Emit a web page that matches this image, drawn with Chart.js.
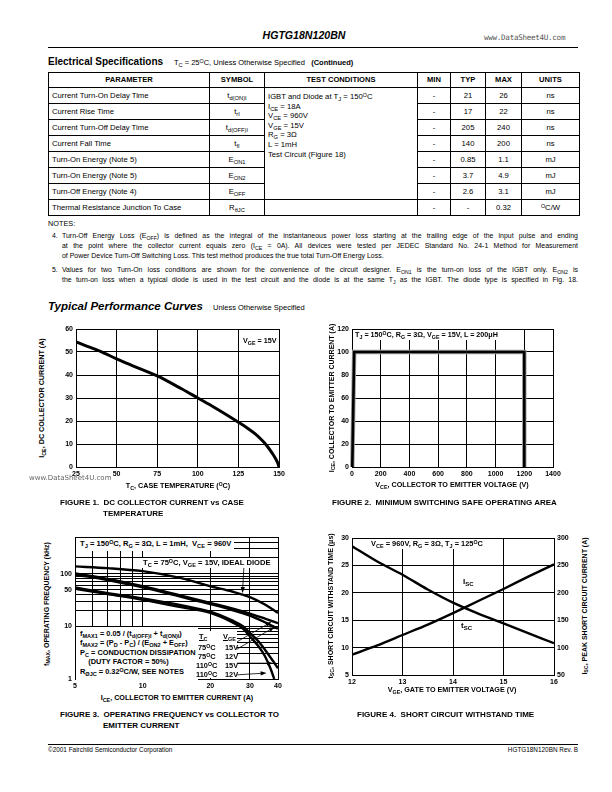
<!DOCTYPE html>
<html><head><meta charset="utf-8">
<script src="https://cdn.jsdelivr.net/npm/chart.js@4.4.0/dist/chart.umd.min.js"></script>
<style>
html,body{margin:0;padding:0;background:#fff}
body{width:612px;height:792px;position:relative;overflow:hidden;font-family:"Liberation Sans",Arial,sans-serif;color:#000}
.t{position:absolute;white-space:nowrap;line-height:1}
.n{font-family:"Liberation Sans Narrow","Liberation Sans",Arial,sans-serif;font-weight:bold}
sub{font-size:75%;vertical-align:-0.3em;line-height:0}
sup{font-size:70%;vertical-align:0.45em;line-height:0}
canvas{position:absolute}
.rot{position:absolute;white-space:nowrap;line-height:1;transform:translate(-50%,-50%) rotate(-90deg)}
.xt{position:absolute;white-space:nowrap;line-height:1;transform:translate(-50%,-50%)}
.wb{background:#fff}
#spec{position:absolute;left:48px;top:72px;width:531px;border-collapse:collapse;table-layout:fixed;font-size:7.7px}
#spec td,#spec th{border:1px solid #000;padding:0 3px;line-height:1;white-space:nowrap;overflow:visible}
#spec th{font-weight:bold;text-align:center;font-size:7.6px}
#spec tr{height:16px}
#spec tr.h{height:15px}
.c{text-align:center}
.note{position:absolute;left:62px;width:516px;font-size:6.95px;line-height:1;text-align:justify;text-align-last:justify;white-space:normal}
.last{text-align-last:left}
</style></head><body>
<script>
// ---------- DATA ----------
// Figure 1: DC collector current vs case temperature
const fig1Temp    = [25, 30, 40, 50, 60, 75, 90, 100, 110, 125, 130, 135, 140, 143, 146, 148, 149.3, 150];
const fig1Current = [54.4, 53, 50.3, 47, 44, 39.6, 34, 30, 26, 19.5, 17.2, 14.6, 11.3, 8.8, 5.8, 3.5, 1.6, 0];
// Figure 2: minimum switching safe operating area
const fig2Voltage = [2, 15, 1200, 1200];
const fig2Current = [0, 100, 100, 0];
// Figure 3: operating frequency vs collector current
const fig3Current     = [5, 7, 10, 15, 20, 25, 30, 35, 40];
const fig3IdealDiode  = [138, 128, 112, 82, 58, 46, 36, 26, 18];
const fig3T75V15      = [102, 80, 58, 38, 28, 22, 17.5, 14, 11.5];
const fig3T75V12      = [96, 76, 55, 36, 26.5, 20.5, 16, 12, 9];
const fig3Current110a = [5, 7, 10, 15, 20, 25, 28, 30, 33, 35, 38, 40];
const fig3T110V15     = [55, 43, 34, 25, 19, 13, 10, 7.5, 5, 3.6, 2.2, 1.6];
const fig3Current110b = [5, 7, 10, 15, 20, 25, 28, 30, 33, 35, 37, 38.5];
const fig3T110V12     = [52, 41, 32, 23, 18, 12, 9, 6.5, 4, 2.7, 1.6, 1];
const fig3XTicks = [5, 6, 7, 8, 9, 10, 20, 30, 40];
const fig3XLabels = [5, 10, 20, 30, 40];
const fig3YTicks = [1,2,3,4,5,6,7,8,9,10,20,30,40,50,60,70,80,90,100,200,300,400,500];
const fig3YLabels = [1, 10, 50, 100];
// arrows of figure 3 (from label to curve), in data units
const fig3Arrows = [[28.2,131,27.8,43],[26.3,5.1,37.4,12.2],[26.3,3.7,38.7,9.8],[26.3,2.0,38.0,2.0],[26.3,1.2,35.6,1.3]];
// Figure 4: short circuit withstand time
const fig4Vge = [12, 12.5, 13, 13.5, 14, 14.5, 15, 15.5, 16];
const fig4Tsc = [28.5, 25.7, 23.3, 20.6, 18.2, 16.2, 14.4, 12.6, 10.8];
const fig4Isc = [87, 104, 123, 142, 163, 185, 207, 230, 252];
</script>

<!-- header -->
<div class="t" style="left:204px;width:200px;text-align:center;top:30px;font-size:10.6px;font-weight:bold;font-style:italic">HGTG18N120BN</div>
<div class="t" style="left:484px;top:34px;font-size:7.6px;color:#555;font-family:'DejaVu Sans Mono','DejaVu Sans',monospace;letter-spacing:-0.3px">www.DataSheet4U.com</div>
<div style="position:absolute;left:48px;top:47px;width:530px;height:1.3px;background:#000"></div>
<div class="t" style="left:48px;top:57px;font-size:10px;font-weight:bold">Electrical Specifications</div>
<div class="t" style="left:174px;top:59px;font-size:7.5px">T<sub>C</sub> = 25<sup>O</sup>C, Unless Otherwise Specified &nbsp;&nbsp;<b>(Continued)</b></div>

<table id="spec">
<colgroup><col style="width:161px"><col style="width:55px"><col style="width:153px"><col style="width:33px"><col style="width:35px"><col style="width:36px"><col style="width:58px"></colgroup>
<tr class="h"><th>PARAMETER</th><th>SYMBOL</th><th>TEST CONDITIONS</th><th>MIN</th><th>TYP</th><th>MAX</th><th>UNITS</th></tr>
<tr><td>Current Turn-On Delay Time</td><td class="c">t<sub>d(ON)I</sub></td>
<td rowspan="7" style="vertical-align:top;padding-top:4px;line-height:9.6px">IGBT and Diode at T<sub>J</sub> = 150<sup>O</sup>C<br>I<sub>CE</sub> = 18A<br>V<sub>CE</sub> = 960V<br>V<sub>GE</sub> = 15V<br>R<sub>G</sub> = 3Ω<br>L = 1mH<br>Test Circuit (Figure 18)</td>
<td class="c">-</td><td class="c">21</td><td class="c">26</td><td class="c">ns</td></tr>
<tr><td>Current Rise Time</td><td class="c">t<sub>rI</sub></td><td class="c">-</td><td class="c">17</td><td class="c">22</td><td class="c">ns</td></tr>
<tr><td>Current Turn-Off Delay Time</td><td class="c">t<sub>d(OFF)I</sub></td><td class="c">-</td><td class="c">205</td><td class="c">240</td><td class="c">ns</td></tr>
<tr><td>Current Fall Time</td><td class="c">t<sub>fI</sub></td><td class="c">-</td><td class="c">140</td><td class="c">200</td><td class="c">ns</td></tr>
<tr><td>Turn-On Energy (Note 5)</td><td class="c">E<sub>ON1</sub></td><td class="c">-</td><td class="c">0.85</td><td class="c">1.1</td><td class="c">mJ</td></tr>
<tr><td>Turn-On Energy (Note 5)</td><td class="c">E<sub>ON2</sub></td><td class="c">-</td><td class="c">3.7</td><td class="c">4.9</td><td class="c">mJ</td></tr>
<tr><td>Turn-Off Energy (Note 4)</td><td class="c">E<sub>OFF</sub></td><td class="c">-</td><td class="c">2.6</td><td class="c">3.1</td><td class="c">mJ</td></tr>
<tr><td>Thermal Resistance Junction To Case</td><td class="c">R<sub>θJC</sub></td><td></td><td class="c">-</td><td class="c">-</td><td class="c">0.32</td><td class="c"><sup>O</sup>C/W</td></tr>
</table>

<div class="t" style="left:48px;top:220px;font-size:7.3px">NOTES:</div>
<div class="t" style="left:52px;top:233px;font-size:6.95px">4.</div>
<div class="note" style="top:233px">Turn-Off Energy Loss (E<sub>OFF</sub>) is defined as the integral of the instantaneous power loss starting at the trailing edge of the input pulse and ending</div>
<div class="note" style="top:243px">at the point where the collector current equals zero (I<sub>CE</sub> = 0A). All devices were tested per JEDEC Standard No. 24-1 Method for Measurement</div>
<div class="note last" style="top:253px">of Power Device Turn-Off Switching Loss. This test method produces the true total Turn-Off Energy Loss.</div>
<div class="t" style="left:52px;top:267px;font-size:6.95px">5.</div>
<div class="note" style="top:267px">Values for two Turn-On loss conditions are shown for the convenience of the circuit designer. E<sub>ON1</sub> is the turn-on loss of the IGBT only. E<sub>ON2</sub> is</div>
<div class="note" style="top:277px">the turn-on loss when a typical diode is used in the test circuit and the diode is at the same T<sub>J</sub> as the IGBT. The diode type is specified in Fig. 18.</div>

<div class="t" style="left:48px;top:301px;font-size:11.5px;font-weight:bold;font-style:italic">Typical Performance Curves</div>
<div class="t" style="left:213px;top:304px;font-size:7.5px">Unless Otherwise Specified</div>

<canvas id="c1"></canvas>
<canvas id="c2"></canvas>
<canvas id="c3"></canvas>
<canvas id="c4"></canvas>

<!-- figure 1 texts -->
<div class="rot n" style="left:42px;top:398px;font-size:7.2px">I<sub>CE</sub>, DC COLLECTOR CURRENT (A)</div>
<div class="xt n" style="left:178px;top:486px;font-size:7.2px">T<sub>C</sub>, CASE TEMPERATURE (<sup>O</sup>C)</div>
<div class="t n" style="left:243px;top:337px;font-size:7.2px">V<sub>GE</sub> = 15V</div>
<div class="t" style="left:29px;top:475px;font-size:7px;color:#666;font-family:'DejaVu Sans',sans-serif">www.DataSheet4U.com</div>
<div class="t n" style="left:60px;top:499px;font-size:8px">FIGURE 1.&nbsp; DC COLLECTOR CURRENT vs CASE</div>
<div class="t n" style="left:103px;top:510px;font-size:8px">TEMPERATURE</div>

<!-- figure 2 texts -->
<div class="rot n" style="left:331px;top:398px;font-size:7px">I<sub>CE</sub>, COLLECTOR TO EMITTER CURRENT (A)</div>
<div class="xt n" style="left:452px;top:485px;font-size:7.2px">V<sub>CE</sub>, COLLECTOR TO EMITTER VOLTAGE (V)</div>
<div class="t n wb" style="left:353px;top:330px;padding:1px 2px 2px 2px;font-size:7.2px">T<sub>J</sub> = 150<sup>O</sup>C, R<sub>G</sub> = 3Ω, V<sub>GE</sub> = 15V, L = 200μH</div>
<div class="t n" style="left:332px;top:499px;font-size:8px">FIGURE 2.&nbsp; MINIMUM SWITCHING SAFE OPERATING AREA</div>

<!-- figure 3 texts -->
<div class="rot n" style="left:46px;top:604px;font-size:7px">f<sub>MAX</sub>, OPERATING FREQUENCY (kHz)</div>
<div class="xt n" style="left:177px;top:698px;font-size:7.2px">I<sub>CE</sub>, COLLECTOR TO EMITTER CURRENT (A)</div>
<div class="t n wb" style="left:76px;top:538px;padding:2px 3px 3px 4px;font-size:7.6px">T<sub>J</sub> = 150<sup>O</sup>C, R<sub>G</sub> = 3Ω, L = 1mH,&nbsp; V<sub>CE</sub> = 960V</div>
<div class="t n wb" style="left:141px;top:558px;padding:1px 2px 1px 2px;font-size:7.6px">T<sub>C</sub> = 75<sup>O</sup>C, V<sub>GE</sub> = 15V, IDEAL DIODE</div>
<div class="t n wb" style="left:76px;top:627px;width:118px;height:51px;font-size:7.4px;line-height:9.4px;padding:2px 0 0 4px">f<sub>MAX1</sub> = 0.05 / (t<sub>d(OFF)I</sub> + t<sub>d(ON)I</sub>)<br>f<sub>MAX2</sub> = (P<sub>D</sub> - P<sub>C</sub>) / (E<sub>ON2</sub> + E<sub>OFF</sub>)<br>P<sub>C</sub> = CONDUCTION DISSIPATION<br>&nbsp;&nbsp;&nbsp;&nbsp;(DUTY FACTOR = 50%)<br>R<sub>ØJC</sub> = 0.32<sup>O</sup>C/W, SEE NOTES</div>
<div class="t n wb" style="left:196px;top:631px;width:41px;height:47px;font-size:7.4px;line-height:9.2px">
<div style="position:absolute;left:3px;top:1px;text-decoration:underline">T<sub>C</sub></div>
<div style="position:absolute;left:27px;top:1px;text-decoration:underline">V<sub>GE</sub></div>
<div style="position:absolute;left:2px;top:12px">75<sup>O</sup>C</div><div style="position:absolute;left:29px;top:12px">15V</div>
<div style="position:absolute;left:2px;top:21px">75<sup>O</sup>C</div><div style="position:absolute;left:29px;top:21px">12V</div>
<div style="position:absolute;left:0px;top:30px">110<sup>O</sup>C</div><div style="position:absolute;left:29px;top:30px">15V</div>
<div style="position:absolute;left:0px;top:39px">110<sup>O</sup>C</div><div style="position:absolute;left:29px;top:39px">12V</div>
</div>
<div class="t n" style="left:60px;top:711px;font-size:8px">FIGURE 3.&nbsp; OPERATING FREQUENCY vs COLLECTOR TO</div>
<div class="t n" style="left:103px;top:722px;font-size:8px">EMITTER CURRENT</div>

<!-- figure 4 texts -->
<div class="rot n" style="left:330px;top:606px;font-size:7px">t<sub>SC</sub>, SHORT CIRCUIT WITHSTAND TIME (μs)</div>
<div class="rot n" style="left:584px;top:606px;font-size:7px">I<sub>SC</sub>, PEAK SHORT CIRCUIT CURRENT (A)</div>
<div class="xt n" style="left:452px;top:690px;font-size:7.2px">V<sub>GE</sub>, GATE TO EMITTER VOLTAGE (V)</div>
<div class="t n wb" style="left:368px;top:539px;padding:1px 3px 2px 3px;font-size:7.4px">V<sub>CE</sub> = 960V, R<sub>G</sub> = 3Ω, T<sub>J</sub> = 125<sup>O</sup>C</div>
<div class="t n" style="left:463px;top:578px;font-size:8px">I<sub>SC</sub></div>
<div class="t n" style="left:461px;top:622px;font-size:8px">t<sub>SC</sub></div>
<div class="t n" style="left:357px;top:711px;font-size:8px">FIGURE 4.&nbsp; SHORT CIRCUIT WITHSTAND TIME</div>

<!-- footer -->
<div style="position:absolute;left:48px;top:744px;width:530px;height:1px;background:#000"></div>
<div class="t" style="left:48px;top:747px;font-size:6.4px">©2001 Fairchild Semiconductor Corporation</div>
<div class="t" style="left:378px;width:200px;text-align:right;top:747px;font-size:6.4px">HGTG18N120BN Rev. B</div>

<script>
Chart.defaults.font.family = '"Liberation Sans Narrow","Liberation Sans",Arial,sans-serif';
Chart.defaults.font.size = 7;
Chart.defaults.font.weight = 'bold';
Chart.defaults.color = '#000';

function place(id, L, T, W, H, yW, xH, padT, padR) {
  const c = document.getElementById(id);
  const cw = yW + W + padR, ch = padT + H + xH;
  c.style.left = (L - yW) + 'px'; c.style.top = (T - padT) + 'px';
  c.width = cw; c.height = ch; c.style.width = cw + 'px'; c.style.height = ch + 'px';
  return c;
}
const pts = (xs, ys) => xs.map((x, i) => ({x, y: ys[i]}));
const plain = v => String(v);
const gridOpt = {color: '#000', lineWidth: 1, drawTicks: false};
const borderOpt = {color: '#000', width: 1};
function base(padT, padR) {
  return {responsive: false, animation: false, devicePixelRatio: 1,
    layout: {padding: {top: padT, right: padR, left: 0, bottom: 0}},
    plugins: {legend: {display: false}, tooltip: {enabled: false}},
    elements: {point: {radius: 0}}};
}
function xAxis(xH, extra) {
  return Object.assign({type: 'linear', grid: gridOpt, border: borderOpt,
    afterFit(s) { s.height = xH; }}, extra);
}
function yAxis(yW, extra) {
  return Object.assign({type: 'linear', grid: gridOpt, border: borderOpt,
    afterFit(s) { s.width = yW; }}, extra);
}

// Figure 1
{
  const c = place('c1', 76, 329, 203, 138, 22, 14, 8, 14);
  const o = base(8, 14);
  o.scales = {
    x: xAxis(14, {min: 25, max: 150, ticks: {stepSize: 25, padding: 3, maxRotation: 0, autoSkip: false, callback: plain}}),
    y: yAxis(22, {min: 0, max: 60, ticks: {stepSize: 10, padding: 3, autoSkip: false, callback: plain}})
  };
  new Chart(c, {type: 'line', data: {datasets: [{data: pts(fig1Temp, fig1Current), borderColor: '#000', borderWidth: 3, cubicInterpolationMode: 'monotone', fill: false}]}, options: o});
}
// Figure 2
{
  const c = place('c2', 352, 329, 201, 138, 22, 14, 8, 14);
  const o = base(8, 14);
  o.scales = {
    x: xAxis(14, {min: 0, max: 1400, ticks: {stepSize: 200, padding: 3, maxRotation: 0, autoSkip: false, callback: plain}}),
    y: yAxis(22, {min: 0, max: 120, ticks: {stepSize: 20, padding: 3, autoSkip: false, callback: plain}})
  };
  new Chart(c, {type: 'line', data: {datasets: [
    {data: pts(fig2Voltage, fig2Current), borderColor: '#000', borderWidth: 2.6, tension: 0, fill: false, clip: 3},
    {data: pts(fig2Voltage, fig2Current), borderColor: '#9a9a9a', borderWidth: 4.4, tension: 0, fill: false, clip: 3}
  ]}, options: o});
}
// Figure 3
{
  const c = place('c3', 75, 537, 203, 142, 22, 14, 8, 14);
  const o = base(8, 14);
  o.scales = {
    x: xAxis(14, {type: 'logarithmic', min: 5, max: 40,
      afterBuildTicks(s) { s.ticks = fig3XTicks.map(v => ({value: v})); },
      ticks: {padding: 3, autoSkip: false, maxRotation: 0, callback: v => fig3XLabels.includes(v) ? String(v) : ''}}),
    y: yAxis(22, {type: 'logarithmic', min: 1, max: 500,
      afterBuildTicks(s) { s.ticks = fig3YTicks.map(v => ({value: v})); },
      ticks: {padding: 3, autoSkip: false, callback: v => fig3YLabels.includes(v) ? String(v) : ''}})
  };
  o.plugins.arrows = {list: fig3Arrows};
  const ds = (xs, ys) => ({data: pts(xs, ys), borderColor: '#000', borderWidth: 2.4, cubicInterpolationMode: 'monotone', fill: false});
  const arrowPlugin = {id: 'arrows', afterDatasetsDraw(chart, args, opts) {
    const {ctx} = chart, sx = chart.scales.x, sy = chart.scales.y;
    ctx.save(); ctx.strokeStyle = '#000'; ctx.fillStyle = '#000'; ctx.lineWidth = 0.8;
    for (const a of opts.list) {
      const x1 = sx.getPixelForValue(a[0]), y1 = sy.getPixelForValue(a[1]);
      const x2 = sx.getPixelForValue(a[2]), y2 = sy.getPixelForValue(a[3]);
      const ang = Math.atan2(y2 - y1, x2 - x1);
      ctx.beginPath(); ctx.moveTo(x1, y1); ctx.lineTo(x2 - 4 * Math.cos(ang), y2 - 4 * Math.sin(ang)); ctx.stroke();
      ctx.beginPath(); ctx.moveTo(x2, y2);
      ctx.lineTo(x2 - 6 * Math.cos(ang) + 2.2 * Math.sin(ang), y2 - 6 * Math.sin(ang) - 2.2 * Math.cos(ang));
      ctx.lineTo(x2 - 6 * Math.cos(ang) - 2.2 * Math.sin(ang), y2 - 6 * Math.sin(ang) + 2.2 * Math.cos(ang));
      ctx.closePath(); ctx.fill();
    }
    ctx.restore();
  }};
  new Chart(c, {type: 'line', data: {datasets: [
    ds(fig3Current, fig3IdealDiode), ds(fig3Current, fig3T75V15), ds(fig3Current, fig3T75V12),
    ds(fig3Current110a, fig3T110V15), ds(fig3Current110b, fig3T110V12)
  ]}, options: o, plugins: [arrowPlugin]});
}
// Figure 4
{
  const c = place('c4', 352, 538, 202, 137, 22, 14, 8, 24);
  const o = base(8, 0);
  o.scales = {
    x: xAxis(14, {min: 12, max: 16, ticks: {stepSize: 1, padding: 3, maxRotation: 0, autoSkip: false, callback: plain}}),
    y: yAxis(22, {min: 5, max: 30, position: 'left', ticks: {stepSize: 5, padding: 3, callback: plain}}),
    y2: {type: 'linear', position: 'right', min: 50, max: 300, grid: {display: false, drawTicks: false}, border: borderOpt,
      ticks: {stepSize: 50, padding: 3, callback: plain}, afterFit(s) { s.width = 24; }}
  };
  new Chart(c, {type: 'line', data: {datasets: [
    {data: pts(fig4Vge, fig4Tsc), yAxisID: 'y', borderColor: '#000', borderWidth: 2.4, tension: 0.3, fill: false},
    {data: pts(fig4Vge, fig4Isc), yAxisID: 'y2', borderColor: '#000', borderWidth: 2.4, tension: 0.3, fill: false}
  ]}, options: o});
}
</script>
</body></html>
